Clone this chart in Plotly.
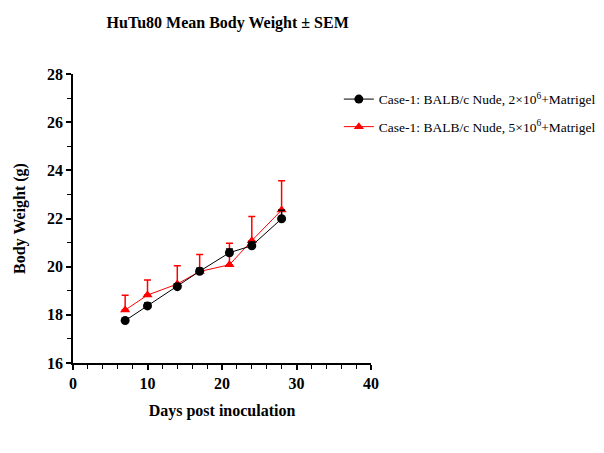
import plotly.graph_objects as go

days = [7, 10, 14, 17, 21, 24, 28]
black_mean = [17.76, 18.37, 19.17, 19.81, 20.58, 20.87, 21.99]
black_sem = [0.12, 0.12, 0.12, 0.12, 0.15, 0.15, 0.35]
red_mean = [18.2, 18.82, 19.28, 19.8, 20.08, 21.08, 22.35]
red_sem = [0.61, 0.63, 0.76, 0.71, 0.89, 1.0, 1.22]

name_black = "Case-1: BALB/c Nude, 2×10<sup>6</sup>+Matrigel"
name_red = "Case-1: BALB/c Nude, 5×10<sup>6</sup>+Matrigel"

font_family = "Liberation Serif, Times New Roman, serif"

fig = go.Figure()
fig.add_trace(go.Scatter(
    x=days, y=red_mean, name=name_red, mode="lines+markers",
    legendgroup="b", legendrank=2,
    line=dict(color="#ff0000", width=1),
    marker=dict(symbol="triangle-up", size=9, color="#ff0000"),
    error_y=dict(type="data", array=red_sem, arrayminus=[0]*len(red_sem),
                 symmetric=False, color="#ff0000", thickness=1.5, width=3.5),
))
fig.add_trace(go.Scatter(
    x=days, y=black_mean, name=name_black, mode="lines+markers",
    legendgroup="a", legendrank=1,
    line=dict(color="#000000", width=1),
    marker=dict(symbol="circle", size=9, color="#000000"),
    error_y=dict(type="data", array=black_sem, arrayminus=[0]*len(black_sem),
                 symmetric=False, color="#000000", thickness=1.5, width=3.5),
))

fig.update_layout(
    width=604, height=453,
    margin=dict(l=73, r=233, t=74, b=90, autoexpand=False),
    plot_bgcolor="white", paper_bgcolor="white",
    font=dict(family=font_family, size=14, color="black"),
    showlegend=True,
    legend=dict(xref="container", yref="container", x=0.561, y=0.815,
                xanchor="left", yanchor="top",
                font=dict(family=font_family, size=13.5, color="black"),
                bgcolor="rgba(0,0,0,0)", itemwidth=30, tracegroupgap=7),
    title=dict(text="<b>HuTu80 Mean Body Weight ± SEM</b>",
               xref="container", x=0.377, xanchor="center",
               yref="container", y=0.951, yanchor="middle",
               font=dict(family=font_family, size=16, color="black")),
)
fig.update_xaxes(
    range=[0, 40], dtick=10, tick0=0,
    showline=True, linecolor="black", linewidth=1.5,
    ticks="outside", ticklen=5, tickwidth=1.5, tickcolor="black",
    showgrid=False, zeroline=False,
    tickfont=dict(family=font_family, size=16, color="black", weight="bold"),
    minor=dict(dtick=2, ticks="outside", ticklen=4, tickwidth=1, tickcolor="black", showgrid=False),
    title=dict(text="<b>Days post inoculation</b>", standoff=14,
               font=dict(family=font_family, size=16, color="black")),
)
fig.update_yaxes(
    range=[16, 28], dtick=2, tick0=16,
    showline=True, linecolor="black", linewidth=1.5,
    ticks="outside", ticklen=5, tickwidth=1.5, tickcolor="black",
    showgrid=False, zeroline=False,
    tickfont=dict(family=font_family, size=16, color="black", weight="bold"),
    minor=dict(dtick=1, ticks="outside", ticklen=4, tickwidth=1, tickcolor="black", showgrid=False),
    title=dict(text="<b>Body Weight (g)</b>", standoff=17,
               font=dict(family=font_family, size=16, color="black")),
)

fig.write_html("out.html")
